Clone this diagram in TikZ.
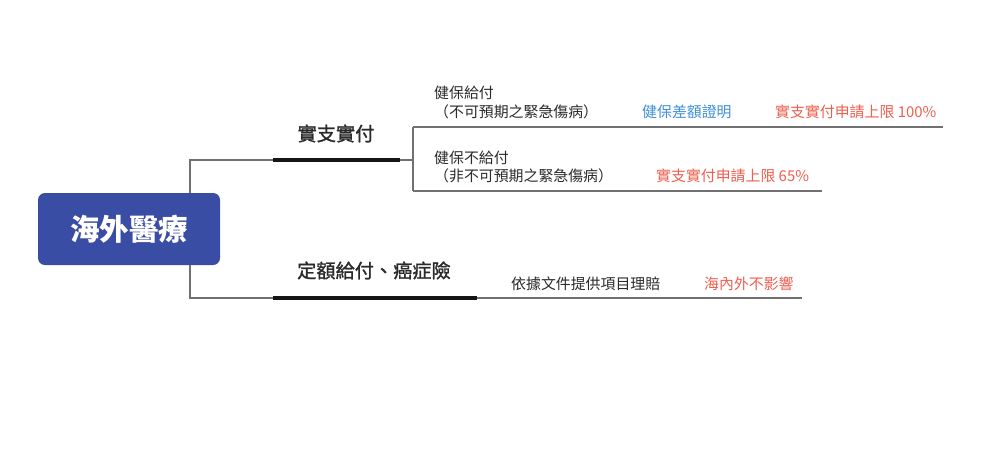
\documentclass[tikz,border=0pt]{standalone}
\usepackage{fontspec}
\newfontfamily\cjk{Noto Sans CJK TC}
\newfontfamily\cjkm[FakeBold=1.3]{Noto Sans CJK TC}
\definecolor{rootblue}{HTML}{3A4DA4}
\definecolor{linegray}{HTML}{707070}
\definecolor{barblack}{HTML}{151515}
\definecolor{txtred}{HTML}{EE5F4E}
\definecolor{txtblue}{HTML}{3C8FD8}
\definecolor{txtdark}{HTML}{2A2A2A}
\tikzset{
  rootbox/.style={fill=rootblue, rounded corners=7pt, minimum width=182pt, minimum height=72pt,
    inner sep=0pt, text=white, font=\cjk\bfseries\fontsize{29.5}{30}\selectfont},
  mainlabel/.style={inner sep=0pt, text=txtdark, font=\cjkm\fontsize{19.2}{20}\selectfont,
    text height=0.88em, text depth=0.12em},
  sublabel/.style={inner sep=0pt, anchor=west, text=txtdark, font=\cjk\fontsize{14.9}{15}\selectfont,
    text height=0.88em, text depth=0.12em},
  redlabel/.style={sublabel, text=txtred},
  bluelabel/.style={sublabel, text=txtblue},
  thinline/.style={draw=linegray, line width=1.4pt},
  thickbar/.style={draw=barblack, line width=4.2pt},
}
\begin{document}
\begin{tikzpicture}[x=1pt,y=-1pt]
\useasboundingbox (0,0) rectangle (1000,453);
\fill[white] (0,0) rectangle (1000,453);

% root
\node[rootbox] (root) at (129,229) {海外醫療};

% coordinates of the tree
\coordinate (rt) at (190,193);
\coordinate (rb) at (190,265);
\coordinate (c1) at (190,160);
\coordinate (c2) at (190,298);
\coordinate (b1s) at (273,160);
\coordinate (b1e) at (400,160);
\coordinate (br) at (413,160);
\coordinate (brt) at (413,127);
\coordinate (brb) at (413,191);
\coordinate (e1) at (943,127);
\coordinate (e2) at (822,191);
\coordinate (b2s) at (273,298);
\coordinate (b2e) at (477,298);
\coordinate (e3) at (802,298);

% connectors
\draw[thinline] (rt) -- (c1) -- (b1s);
\draw[thinline] (rb) -- (c2) -- (b2s);
\draw[thinline] (b1e) -- (br);
\draw[thinline] (brt) -- (brb);
\draw[thinline] (brt) -- (e1);
\draw[thinline] (brb) -- (e2);
\draw[thinline] (b2e) -- (e3);
\draw[thickbar] (b1s) -- (b1e);
\draw[thickbar] (b2s) -- (b2e);

% labels
\node[mainlabel] (l1) at (336,137) {實支實付};
\node[mainlabel, anchor=west] (l2) at (297,274) {定額給付、癌症險};

\node[sublabel] (a1) at (434,95) {健保給付};
\node[sublabel] (a2) at (434,114) {（不可預期之緊急傷病）};
\node[bluelabel] (a3) at (642,114) {健保差額證明};
\node[redlabel] (a4) at (775,114) {實支實付申請上限 100\%};

\node[sublabel] (b1) at (434,160) {健保不給付};
\node[sublabel] (b2) at (434,178) {（非不可預期之緊急傷病）};
\node[redlabel] (b3) at (656,178) {實支實付申請上限 65\%};

\node[sublabel] (d1) at (511,286) {依據文件提供項目理賠};
\node[redlabel] (d2) at (704,286) {海內外不影響};
\end{tikzpicture}
\end{document}
